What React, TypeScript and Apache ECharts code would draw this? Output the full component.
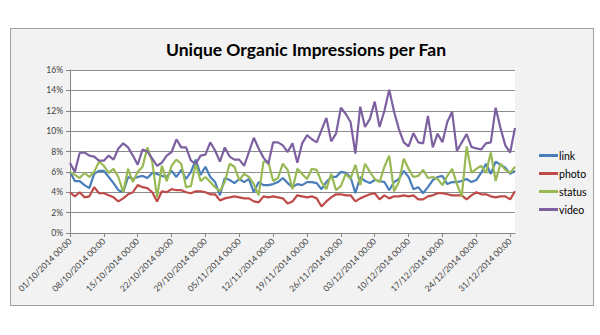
import React, { useEffect, useRef } from "react";
import * as echarts from "echarts";

const TITLE = "Unique Organic Impressions per Fan";
const SERIES_NAMES = ["link", "photo", "status", "video"];
const COLORS = ["#4a7ebb", "#be4b48", "#98b954", "#7d60a0"];

// daily categories 01/10/2014 .. 01/01/2015
const categories: string[] = (() => {
  const out: string[] = [];
  const d = new Date(Date.UTC(2014, 9, 1));
  const end = new Date(Date.UTC(2015, 0, 1));
  while (d.getTime() <= end.getTime()) {
    const dd = String(d.getUTCDate()).padStart(2, "0");
    const mm = String(d.getUTCMonth() + 1).padStart(2, "0");
    out.push(`${dd}/${mm}/${d.getUTCFullYear()} 00:00`);
    d.setUTCDate(d.getUTCDate() + 1);
  }
  return out;
})();

const link = [
  6.0, 5.1, 5.1, 4.7, 4.4, 5.8, 6.1, 6.1, 5.5, 4.9,
  4.2, 4.0, 5.5, 5.3, 5.5, 5.6, 5.4, 5.9, 5.8, 5.6,
  5.5, 6.1, 5.5, 6.2, 5.3, 6.0, 7.2, 5.7, 6.5, 5.5,
  5.0, 3.7, 5.4, 5.2, 4.9, 5.3, 5.0, 5.3, 4.0, 5.0,
  4.7, 4.7, 4.8, 5.0, 5.4, 4.9, 4.5, 4.8, 4.7, 5.0,
  5.0, 4.9, 4.3, 5.0, 5.5, 5.5, 6.0, 5.9, 5.5, 3.9,
  5.5, 5.1, 4.9, 5.2, 5.1, 5.0, 4.2, 5.0, 5.3, 6.1,
  5.5, 4.3, 4.5, 3.9, 4.5, 5.2, 5.5, 5.6, 4.8, 5.0,
  5.0, 5.1, 5.3, 5.0, 5.2, 5.9, 6.8, 5.8, 7.0, 6.7,
  6.4, 5.8, 6.1,
];

const photo = [
  4.0, 3.6, 4.0, 3.5, 3.6, 4.5, 3.9, 3.9, 3.7, 3.5,
  3.1, 3.4, 3.8, 4.0, 4.7, 4.5, 4.4, 4.0, 3.1, 4.1,
  4.0, 4.3, 4.2, 4.2, 4.0, 3.9, 4.1, 4.1, 4.0, 3.8,
  3.8, 3.2, 3.4, 3.5, 3.6, 3.5, 3.4, 3.4, 3.1, 3.0,
  3.6, 3.5, 3.6, 3.5, 3.4, 2.9, 3.1, 3.7, 3.6, 3.5,
  3.6, 3.4, 2.6, 3.1, 3.5, 3.8, 3.8, 3.7, 3.7, 3.1,
  3.4, 3.6, 3.8, 3.9, 3.3, 3.7, 3.4, 3.6, 3.6, 3.7,
  3.6, 3.7, 3.3, 3.3, 3.6, 3.7, 3.9, 3.9, 3.8, 3.7,
  3.7, 3.7, 3.3, 3.7, 4.0, 3.8, 3.8, 3.6, 3.5, 3.6,
  3.6, 3.3, 4.1,
];

const status = [
  6.0, 5.7, 5.4, 5.9, 5.5, 6.0, 7.0, 6.6, 5.9, 6.3,
  5.5, 4.0, 6.3, 5.0, 6.0, 6.5, 8.4, 7.0, 3.5, 6.6,
  5.1, 6.6, 7.2, 6.8, 4.5, 4.6, 6.8, 5.1, 5.5, 5.0,
  4.5, 4.1, 5.0, 6.8, 6.5, 5.2, 5.8, 5.5, 4.8, 3.7,
  7.0, 7.0, 5.1, 5.4, 6.8, 6.2, 4.3, 6.3, 5.8, 5.3,
  6.3, 6.2, 5.0, 4.3, 5.8, 4.2, 4.6, 5.8, 5.3, 6.7,
  4.7, 6.8, 6.0, 5.3, 5.0, 6.5, 7.6, 4.1, 5.0, 7.3,
  6.3, 5.5, 5.6, 6.2, 5.4, 5.5, 5.3, 4.7, 5.6, 6.3,
  4.8, 3.6, 8.5, 5.9, 6.3, 6.6, 5.9, 7.9, 5.1, 6.8,
  6.2, 5.9, 6.5,
];

const video = [
  6.87, 6.0, 7.85, 7.9, 7.6, 7.5, 7.1, 7.1, 7.6, 7.2,
  8.3, 8.8, 8.4, 7.6, 6.7, 8.2, 8.0, 7.3, 6.6, 6.9,
  7.6, 7.95, 9.2, 8.4, 8.4, 7.1, 6.8, 7.6, 7.7, 8.9,
  8.1, 7.0, 8.4, 7.5, 7.2, 7.2, 6.6, 7.95, 9.35, 8.3,
  7.4, 6.8, 8.9, 8.9, 8.6, 7.95, 8.8, 6.9, 8.8, 9.6,
  9.2, 8.9, 10.1, 11.3, 9.0, 9.75, 12.3, 11.7, 10.9, 7.8,
  12.4, 10.4, 11.2, 12.9, 10.4, 12.0, 14.07, 11.9, 10.2, 8.9,
  8.5, 9.8, 8.9, 8.8, 11.5, 8.4, 9.75, 8.9, 10.9, 11.9,
  8.05, 8.9, 9.7, 8.45, 8.3, 8.2, 8.8, 8.9, 12.3, 10.3,
  8.6, 7.9, 10.3,
];

const DATA = [link, photo, status, video];
const FONT = "Lato, 'Liberation Sans', sans-serif";

export default function App() {
  const ref = useRef<HTMLDivElement>(null);
  useEffect(() => {
    if (!ref.current) return;
    const chart = echarts.init(ref.current, undefined, { renderer: "svg" });
    chart.setOption({
      animation: false,
      title: {
        text: TITLE,
        left: 301,
        textAlign: "center",
        top: 35,
        textStyle: { fontFamily: FONT, fontSize: 17.5, fontWeight: "bold", color: "#000" },
      },
      legend: {
        orient: "vertical",
        left: 534,
        top: 145,
        itemWidth: 19,
        itemHeight: 3,
        itemGap: 7,
        icon: "rect",
        data: SERIES_NAMES,
        textStyle: { fontFamily: FONT, fontSize: 10.5, color: "#000", padding: [0, 0, 0, -4] },
      },
      grid: {
        left: 70,
        right: 85,
        top: 70,
        bottom: 102,
        show: true,
        backgroundColor: "#ffffff",
        borderWidth: 0,
      },
      xAxis: {
        type: "category",
        data: categories,
        boundaryGap: false,
        axisLine: { lineStyle: { color: "#868686", width: 1 } },
        axisTick: { interval: 6, length: 4, lineStyle: { color: "#868686" } },
        axisLabel: {
          interval: 6,
          rotate: 45,
          fontFamily: FONT,
          fontSize: 8.5,
          color: "#404040",
          margin: 7,
        },
        splitLine: { show: false },
      },
      yAxis: {
        type: "value",
        min: 0,
        max: 16,
        interval: 2,
        axisLine: { show: true, lineStyle: { color: "#868686", width: 1 } },
        axisTick: { show: true, length: 4, lineStyle: { color: "#868686" } },
        axisLabel: {
          formatter: "{value}%",
          fontFamily: FONT,
          fontSize: 8.5,
          color: "#404040",
          margin: 7,
        },
        splitLine: { show: true, lineStyle: { color: "#8c8c8c", width: 1 } },
      },
      series: SERIES_NAMES.map((name, i) => ({
        name,
        type: "line",
        data: DATA[i],
        showSymbol: false,
        symbol: "none",
        color: COLORS[i],
        lineStyle: { width: 2.2, color: COLORS[i] },
      })),
    });
    return () => chart.dispose();
  }, []);

  return (
    <div style={{ position: "fixed", left: 0, top: 0, width: 600, height: 335, background: "#fff" }}>
      <div
        style={{
          position: "absolute",
          left: 10,
          top: 28,
          width: 582,
          height: 276,
          background: "#f2f2f2",
          border: "1px solid #a0a0a0",
        }}
      />
      <div ref={ref} style={{ position: "absolute", left: 0, top: 0, width: 600, height: 335 }} />
    </div>
  );
}
